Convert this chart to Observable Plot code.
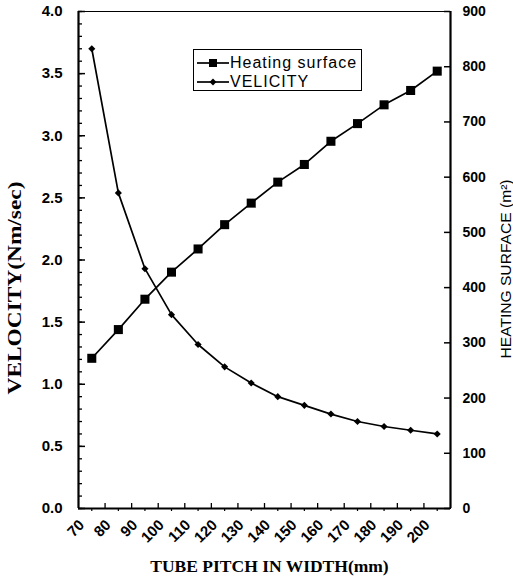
<!DOCTYPE html>
<html><head><meta charset="utf-8">
<script src="https://cdn.jsdelivr.net/npm/d3@7"></script>
<script src="https://cdn.jsdelivr.net/npm/@observablehq/plot@0.6"></script>
<style>
body{margin:0;background:#fff;}
#wrap{position:relative;width:513px;height:580px;}
#legend{position:absolute;left:193px;top:49px;width:169px;height:42px;border:1px solid #000;box-sizing:border-box;background:#fff;font-family:Arial,"Liberation Sans",sans-serif;font-size:16px;letter-spacing:1px;color:#000;}
#legend .row{position:absolute;left:3px;display:flex;align-items:center;height:18px;white-space:nowrap;}
#legend svg{display:block;margin-right:1px;}
</style></head><body><div id="wrap"></div>
<script>
const pitchLabels = [70,80,90,100,110,120,130,140,150,160,170,180,190,200];
const velocity = [3.70,2.54,1.93,1.56,1.32,1.14,1.01,0.90,0.83,0.76,0.70,0.66,0.63,0.60];
const heating = [272,324,379,428,470,514,553,591,623,665,697,731,757,792];
const velocityTicks = [0,0.5,1.0,1.5,2.0,2.5,3.0,3.5,4.0];
const velocityMinorTicks = d3.range(0,41).map(k=>k/10);
const heatingTicks = [0,100,200,300,400,500,600,700,800,900];
const velMax = 4, heatMax = 900;
const seriesNames = ["Heating surface","VELICITY"];

const rows = pitchLabels.map((p,i)=>({i, pitch:p, velocity:velocity[i], heating:heating[i], hs:heating[i]*velMax/heatMax}));
const idx = pitchLabels.map((_,i)=>i);
const bounds = pitchLabels.slice(1).map((_,i)=>i+0.5);

const W=513,H=580,mL=78,mR=63,mT=11,mB=72;
const pw=W-mL-mR, ph=H-mT-mB;

const chart = Plot.plot({
  width:W, height:H, marginLeft:mL, marginRight:mR, marginTop:mT, marginBottom:mB,
  style:{fontFamily:"Arial,'Liberation Sans',sans-serif", fontSize:"14px", fontWeight:"bold", color:"#000", background:"#fff"},
  x:{type:"linear", domain:[-0.5, pitchLabels.length-0.5]},
  y:{domain:[0, velMax]},
  marks:[
    Plot.frame({stroke:"#000", strokeWidth:1}),
    Plot.ruleX([-0.5],{stroke:"#000",strokeWidth:2.2}),
    Plot.ruleX([pitchLabels.length-0.5],{stroke:"#000",strokeWidth:2.2}),
    Plot.ruleY([0],{stroke:"#000",strokeWidth:2.2}),
    Plot.tickY(velocityMinorTicks,{y:d=>d, stroke:"#000", strokeWidth:1.3, insetRight:pw-4}),
    Plot.tickY(velocityTicks,{y:d=>d, stroke:"#000", strokeWidth:1.5, insetRight:pw-7}),
    Plot.tickY(heatingTicks,{y:d=>d*velMax/heatMax, stroke:"#000", strokeWidth:1.5, insetLeft:pw-6}),
    Plot.tickX(bounds,{x:d=>d, stroke:"#000", strokeWidth:1.3, insetTop:ph-5}),
    Plot.tickX(idx,{x:d=>d, stroke:"#000", strokeWidth:1.2, insetTop:ph, insetBottom:-3}),
    Plot.axisY(velocityTicks,{anchor:"left", tickSize:0, tickPadding:16, fontSize:15, tickFormat:d=>d.toFixed(1), label:null}),
    Plot.axisY(heatingTicks.map(d=>d*velMax/heatMax),{anchor:"right", tickSize:0, tickPadding:12, fontSize:14, tickFormat:d=>String(Math.round(d*heatMax/velMax)), label:null}),
    Plot.axisX(idx,{anchor:"bottom", tickSize:0, tickPadding:14, tickRotate:-45, dx:-10, fontSize:15, tickFormat:i=>String(pitchLabels[i]), label:null}),
    Plot.line(rows,{x:"i", y:"hs", stroke:"#000", strokeWidth:1.7}),
    Plot.dot(rows,{x:"i", y:"hs", symbol:"square", r:5.1, fill:"#000", stroke:"none"}),
    Plot.line(rows,{x:"i", y:"velocity", stroke:"#000", strokeWidth:1.7}),
    Plot.dot(rows,{x:"i", y:"velocity", symbol:d3.symbolDiamond2, r:3.2, fill:"#000", stroke:"none"}),
    Plot.text(["VELOCITY(Nm/sec)"],{text:d=>d, frameAnchor:"left", textAnchor:"middle", dx:-63, dy:28, rotate:-90, fontFamily:"'Liberation Serif','Times New Roman',serif", fontWeight:"bold", fontSize:18}),
    Plot.text(["HEATING SURFACE (m²)"],{text:d=>d, frameAnchor:"right", textAnchor:"middle", dx:56, dy:9, rotate:-90, fontFamily:"Arial,'Liberation Sans',sans-serif", fontWeight:"normal", fontSize:15}),
    Plot.text(["TUBE PITCH IN WIDTH(mm)"],{text:d=>d, frameAnchor:"bottom", textAnchor:"middle", dx:5, dy:63, fontFamily:"'Liberation Serif','Times New Roman',serif", fontWeight:"bold", fontSize:17.5})
  ]
});

const sel = d3.select(chart);
const stretch = {"VELOCITY(Nm/sec)":1.3, "HEATING SURFACE (m²)":1.04};
sel.selectAll("text").each(function(){
  const t=this.textContent;
  if (stretch[t]) {
    const tr=this.getAttribute("transform")||"";
    this.setAttribute("transform", tr+` scale(${stretch[t]},1)`);
  }
});

const wrap=document.getElementById("wrap");
wrap.appendChild(chart);
const legend=document.createElement("div");
legend.id="legend";
const symbols=[d3.symbol(d3.symbolSquare, 64), d3.symbol(d3.symbolDiamond2, 30)];
seriesNames.forEach((name,k)=>{
  const row=document.createElement("div");
  row.className="row";
  row.style.top=(k===0?4:23)+"px";
  row.innerHTML=`<svg width="32" height="18"><line x1="0" x2="32" y1="9" y2="9" stroke="#000" stroke-width="1.7"/><path transform="translate(16,9)" d="${symbols[k]()}" fill="#000"/></svg><span>${name}</span>`;
  legend.appendChild(row);
});
wrap.appendChild(legend);
</script>
</body></html>
